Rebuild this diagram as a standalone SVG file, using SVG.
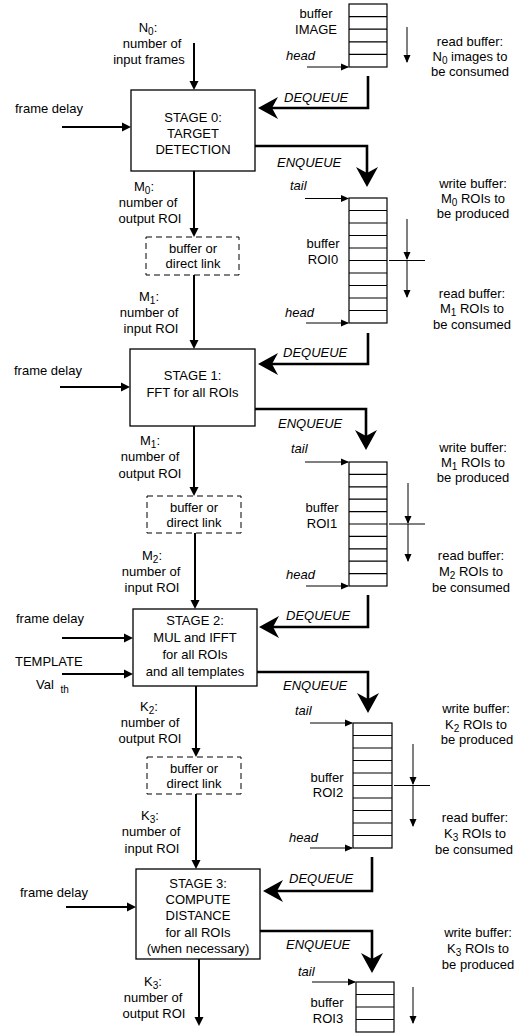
<svg xmlns="http://www.w3.org/2000/svg" width="532" height="1034" viewBox="0 0 532 1034">
<style>
text{font-family:"Liberation Sans",Arial,sans-serif;font-size:13px;fill:#000}
.c{text-anchor:middle}
.i{font-style:italic}
.s{font-size:10px}
.box{fill:#fff;stroke:#000;stroke-width:1.3}
.dash{fill:#fff;stroke:#000;stroke-width:1;stroke-dasharray:6 4}
.buf{fill:#fff;stroke:#000;stroke-width:1.2}
.cell{fill:none;stroke:#000;stroke-width:1.2}
.a2{stroke:#000;stroke-width:2;fill:none;marker-end:url(#ah)}
.a3{stroke:#000;stroke-width:2.6;fill:none;marker-end:url(#big)}
.a1{stroke:#000;stroke-width:1;fill:none;marker-end:url(#th)}
.ln{stroke:#000;stroke-width:1;fill:none}
</style>
<defs>
<marker id="ah" markerUnits="userSpaceOnUse" viewBox="-10 -6 14 12" markerWidth="14" markerHeight="12" refX="0" refY="0" orient="auto" overflow="visible"><path d="M2,0 L-7,-4.5 L-7,4.5 Z" fill="#000"/></marker>
<marker id="big" markerUnits="userSpaceOnUse" viewBox="-18 -12 24 24" markerWidth="24" markerHeight="24" refX="0" refY="0" orient="auto" overflow="visible"><path d="M4,0 L-16,-11 L-10,0 L-16,11 Z" fill="#000"/></marker>
<marker id="th" markerUnits="userSpaceOnUse" viewBox="-9 -5 11 10" markerWidth="11" markerHeight="10" refX="0" refY="0" orient="auto" overflow="visible"><path d="M1,0 L-7,-3.5 L-7,3.5 Z" fill="#000"/></marker>
</defs>
<rect width="532" height="1034" fill="#fff"/>

<g id="connectors">
  <!-- stage 0 -->
  <path class="a2" d="M194,43 V88"/>
  <path class="a2" d="M62,127 H129"/>
  <path class="a3" d="M368,76 V108 H262"/>
  <path class="a3" d="M255,146 H367 V183"/>
  <path class="a2" d="M194,171 V235"/>
  <path class="a2" d="M194,275 V347"/>
  <!-- stage 1 -->
  <path class="a2" d="M60,387 H128"/>
  <path class="a3" d="M368,333 V364 H262"/>
  <path class="a3" d="M255,409 H366 V446"/>
  <path class="a2" d="M194,426 V494"/>
  <path class="a2" d="M195,533 V607"/>
  <!-- stage 2 -->
  <path class="a2" d="M62,638 H131"/>
  <path class="a2" d="M62,674 H131"/>
  <path class="a3" d="M368,595 V627 H263"/>
  <path class="a3" d="M257,672 H368 V709"/>
  <path class="a2" d="M196,686 V755"/>
  <path class="a2" d="M196,794 V867"/>
  <!-- stage 3 -->
  <path class="a2" d="M66,907 H134"/>
  <path class="a3" d="M372,857 V891 H267"/>
  <path class="a3" d="M260,931 H372 V969"/>
  <path class="a2" d="M199,959 V1024"/>
  <!-- head / tail pointers -->
  <path class="a1" d="M307,67 H348"/>
  <path class="a1" d="M305,198.5 H348"/>
  <path class="a1" d="M306,323 H348"/>
  <path class="a1" d="M305,462 H348"/>
  <path class="a1" d="M306,586 H348"/>
  <path class="a1" d="M310,723 H352"/>
  <path class="a1" d="M310,848 H352"/>
  <path class="a1" d="M312,982 H355"/>
  <!-- read / write direction arrows -->
  <path class="a1" d="M407,27 V62"/>
  <path class="ln" d="M389,260.5 H425"/>
  <path class="a1" d="M407,219 V259"/>
  <path class="a1" d="M407,261 V297"/>
  <path class="ln" d="M389,524 H425"/>
  <path class="a1" d="M408,483 V523"/>
  <path class="a1" d="M408,524 V561"/>
  <path class="ln" d="M394,785.5 H430"/>
  <path class="a1" d="M413,744 V784"/>
  <path class="a1" d="M413,786 V826"/>
  <path class="a1" d="M413,987 V1023"/>
</g>

<g id="stage0">
  <rect class="box" x="131" y="90" width="124" height="81"/>
  <text class="c" x="193" y="122">STAGE 0:</text>
  <text class="c" x="193" y="138">TARGET</text>
  <text class="c" x="193" y="154">DETECTION</text>
</g>
<g id="stage1">
  <rect class="box" x="130" y="349" width="125" height="77"/>
  <text class="c" x="192.5" y="380">STAGE 1:</text>
  <text class="c" x="192.5" y="397">FFT for all ROIs</text>
</g>
<g id="stage2">
  <rect class="box" x="133" y="609" width="124" height="77"/>
  <text class="c" x="195" y="625">STAGE 2:</text>
  <text class="c" x="195" y="642">MUL and IFFT</text>
  <text class="c" x="195" y="659">for all ROIs</text>
  <text class="c" x="195" y="676">and all templates</text>
</g>
<g id="stage3">
  <rect class="box" x="136" y="869" width="124" height="90"/>
  <text class="c" x="198" y="888">STAGE 3:</text>
  <text class="c" x="198" y="904">COMPUTE</text>
  <text class="c" x="198" y="920">DISTANCE</text>
  <text class="c" x="198" y="937">for all ROIs</text>
  <text class="c" x="198" y="953">(when necessary)</text>
</g>

<g id="link0">
  <rect class="dash" x="146" y="237" width="93" height="38"/>
  <text class="c" x="193" y="253">buffer or</text>
  <text class="c" x="193" y="268">direct link</text>
</g>
<g id="link1">
  <rect class="dash" x="147" y="496" width="94" height="37"/>
  <text class="c" x="194" y="512">buffer or</text>
  <text class="c" x="194" y="527">direct link</text>
</g>
<g id="link2">
  <rect class="dash" x="147" y="757" width="94" height="37"/>
  <text class="c" x="194" y="773">buffer or</text>
  <text class="c" x="194" y="788">direct link</text>
</g>

<g id="bufIMAGE">
  <rect class="buf" x="349" y="4" width="38" height="63"/>
  <path class="cell" d="M349,16.6 H387 M349,29.2 H387 M349,41.8 H387 M349,54.4 H387"/>
  <text class="c" x="316" y="18">buffer</text>
  <text class="c" x="316" y="34">IMAGE</text>
  <text class="i" x="286" y="60">head</text>
</g>
<g id="bufROI0">
  <rect class="buf" x="349" y="198" width="38" height="125"/>
  <path class="cell" d="M349,210.5 H387 M349,223 H387 M349,235.5 H387 M349,248 H387 M349,260.5 H387 M349,273 H387 M349,285.5 H387 M349,298 H387 M349,310.5 H387"/>
  <text class="c" x="323" y="248">buffer</text>
  <text class="c" x="323" y="264">ROI0</text>
  <text class="i" x="290" y="190">tail</text>
  <text class="i" x="285" y="317">head</text>
</g>
<g id="bufROI1">
  <rect class="buf" x="349" y="462" width="38" height="124"/>
  <path class="cell" d="M349,474.4 H387 M349,486.8 H387 M349,499.2 H387 M349,511.6 H387 M349,524 H387 M349,536.4 H387 M349,548.8 H387 M349,561.2 H387 M349,573.6 H387"/>
  <text class="c" x="322" y="512">buffer</text>
  <text class="c" x="322" y="528">ROI1</text>
  <text class="i" x="291" y="453">tail</text>
  <text class="i" x="286" y="579">head</text>
</g>
<g id="bufROI2">
  <rect class="buf" x="353" y="723" width="39" height="125"/>
  <path class="cell" d="M353,735.5 H392 M353,748 H392 M353,760.5 H392 M353,773 H392 M353,785.5 H392 M353,798 H392 M353,810.5 H392 M353,823 H392 M353,835.5 H392"/>
  <text class="c" x="327" y="782">buffer</text>
  <text class="c" x="328" y="797">ROI2</text>
  <text class="i" x="295" y="715">tail</text>
  <text class="i" x="289" y="842">head</text>
</g>
<g id="bufROI3">
  <rect class="buf" x="356" y="982" width="38" height="50"/>
  <path class="cell" d="M356,994.5 H394 M356,1007 H394 M356,1019.5 H394"/>
  <text class="c" x="327" y="1007">buffer</text>
  <text class="c" x="328" y="1023">ROI3</text>
  <text class="i" x="298" y="976">tail</text>
</g>

<g id="labels">
  <text class="c" x="148" y="32">N<tspan class="s" dy="3">0</tspan><tspan dy="-3">:</tspan></text>
  <text class="c" x="152" y="48">number of</text>
  <text class="c" x="149" y="64">input frames</text>

  <text x="15" y="113">frame delay</text>
  <text x="14" y="375">frame delay</text>
  <text x="16" y="623">frame delay</text>
  <text x="15" y="666">TEMPLATE</text>
  <text x="36" y="689">Val <tspan class="s" dx="3" dy="4">th</tspan></text>
  <text x="20" y="897">frame delay</text>

  <text class="i" x="284" y="102">DEQUEUE</text>
  <text class="i" x="277" y="167">ENQUEUE</text>
  <text class="i" x="283" y="357">DEQUEUE</text>
  <text class="i" x="278" y="428">ENQUEUE</text>
  <text class="i" x="286" y="620">DEQUEUE</text>
  <text class="i" x="283" y="690">ENQUEUE</text>
  <text class="i" x="289" y="883">DEQUEUE</text>
  <text class="i" x="286" y="949">ENQUEUE</text>

  <text class="c" x="144" y="191">M<tspan class="s" dy="3">0</tspan><tspan dy="-3">:</tspan></text>
  <text class="c" x="148" y="207">number of</text>
  <text class="c" x="150" y="223">output ROI</text>

  <text class="c" x="149" y="301">M<tspan class="s" dy="3">1</tspan><tspan dy="-3">:</tspan></text>
  <text class="c" x="149" y="317">number of</text>
  <text class="c" x="151" y="333">input ROI</text>

  <text class="c" x="150" y="445">M<tspan class="s" dy="3">1</tspan><tspan dy="-3">:</tspan></text>
  <text class="c" x="150" y="461">number of</text>
  <text class="c" x="150" y="478">output ROI</text>

  <text class="c" x="152" y="560">M<tspan class="s" dy="3">2</tspan><tspan dy="-3">:</tspan></text>
  <text class="c" x="151" y="576">number of</text>
  <text class="c" x="152" y="592">input ROI</text>

  <text class="c" x="149" y="711">K<tspan class="s" dy="3">2</tspan><tspan dy="-3">:</tspan></text>
  <text class="c" x="150" y="727">number of</text>
  <text class="c" x="150" y="743">output ROI</text>

  <text class="c" x="150" y="820">K<tspan class="s" dy="3">3</tspan><tspan dy="-3">:</tspan></text>
  <text class="c" x="151" y="836">number of</text>
  <text class="c" x="152" y="853">input ROI</text>

  <text class="c" x="153" y="986">K<tspan class="s" dy="3">3</tspan><tspan dy="-3">:</tspan></text>
  <text class="c" x="153" y="1002">number of</text>
  <text class="c" x="154" y="1018">output ROI</text>

  <text class="c" x="470" y="46">read buffer:</text>
  <text class="c" x="470" y="61">N<tspan class="s" dy="3">0</tspan><tspan dy="-3"> images to</tspan></text>
  <text class="c" x="470" y="76">be consumed</text>

  <text class="c" x="473" y="188">write buffer:</text>
  <text class="c" x="473" y="203">M<tspan class="s" dy="3">0</tspan><tspan dy="-3"> ROIs to</tspan></text>
  <text class="c" x="473" y="218">be produced</text>
  <text class="c" x="472" y="298">read buffer:</text>
  <text class="c" x="472" y="313">M<tspan class="s" dy="3">1</tspan><tspan dy="-3"> ROIs to</tspan></text>
  <text class="c" x="472" y="329">be consumed</text>

  <text class="c" x="473" y="452">write buffer:</text>
  <text class="c" x="473" y="467">M<tspan class="s" dy="3">1</tspan><tspan dy="-3"> ROIs to</tspan></text>
  <text class="c" x="473" y="482">be produced</text>
  <text class="c" x="471" y="560">read buffer:</text>
  <text class="c" x="471" y="576">M<tspan class="s" dy="3">2</tspan><tspan dy="-3"> ROIs to</tspan></text>
  <text class="c" x="471" y="592">be consumed</text>

  <text class="c" x="476" y="713">write buffer:</text>
  <text class="c" x="476" y="729">K<tspan class="s" dy="3">2</tspan><tspan dy="-3"> ROIs to</tspan></text>
  <text class="c" x="477" y="744">be produced</text>
  <text class="c" x="475" y="822">read buffer:</text>
  <text class="c" x="475" y="838">K<tspan class="s" dy="3">3</tspan><tspan dy="-3"> ROIs to</tspan></text>
  <text class="c" x="474" y="854">be consumed</text>

  <text class="c" x="478" y="937">write buffer:</text>
  <text class="c" x="478" y="953">K<tspan class="s" dy="3">3</tspan><tspan dy="-3"> ROIs to</tspan></text>
  <text class="c" x="478" y="969">be produced</text>
</g>
</svg>
